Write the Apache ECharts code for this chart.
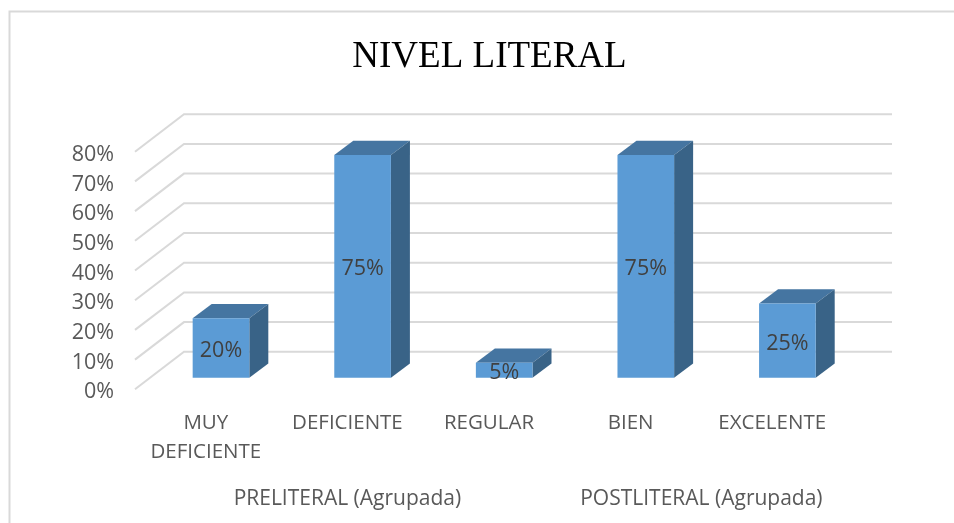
<!DOCTYPE html>
<html>
<head>
<meta charset="utf-8">
<style>
  html, body { margin: 0; padding: 0; background: #fff; }
  #chart { width: 954px; height: 523px; }
</style>
<script src="https://cdn.jsdelivr.net/npm/echarts@6/dist/echarts.min.js"></script>
</head>
<body>
<div id="chart"></div>
<script>
// datos
const categories = ['MUY\nDEFICIENTE', 'DEFICIENTE', 'REGULAR', 'BIEN', 'EXCELENTE']
const values = [20, 75, 5, 75, 25]
const yTicks = [0, 10, 20, 30, 40, 50, 60, 70, 80]
const groupNames = ['PRELITERAL (Agrupada)', 'POSTLITERAL (Agrupada)']
const groupSpans = [[0, 2], [3, 4]]

// profundidad del efecto 3D
const wallDx = 49
const wallDy = -37.5
const barShift = 0.31   // el plano de las barras, entre frente y pared
const barDx = 19
const barDy = -14.3

const font = '"Open Sans", "Noto Sans", sans-serif'
const chart = echarts.init(document.getElementById('chart'))

// rejilla: frente inclinado + linea en la pared del fondo
const renderWallLine = (params, api) => {
  const p = api.coord([0, api.value(0)])
  const x0 = params.coordSys.x
  const x1 = x0 + params.coordSys.width
  return {
    type: 'polyline',
    shape: { points: [[x0, p[1]], [x0 + wallDx, p[1] + wallDy], [x1 + wallDx, p[1] + wallDy]] },
    style: { stroke: '#d9d9d9', lineWidth: 2, fill: null }
  }
}

const renderBar = (params, api) => {
  const cat = api.value(0)
  const base = api.coord([cat, 0])
  const top = api.coord([cat, api.value(1)])
  const w = api.size([1, 0])[0] * 0.4
  const shiftX = wallDx * barShift
  const shiftY = wallDy * barShift
  const l = base[0] - w / 2 + shiftX
  const r = l + w
  const yb = base[1] + shiftY
  const yt = top[1] + shiftY
  return {
    type: 'group',
    children: [
      {
        type: 'polygon',
        shape: { points: [[l, yt], [r, yt], [r + barDx, yt + barDy], [l + barDx, yt + barDy]] },
        style: { fill: '#4575a1' }
      },
      {
        type: 'polygon',
        shape: { points: [[r, yt], [r + barDx, yt + barDy], [r + barDx, yb + barDy], [r, yb]] },
        style: { fill: '#396387' }
      },
      {
        type: 'rect',
        shape: { x: l, y: yt, width: w, height: yb - yt },
        style: { fill: '#5b9bd5' }
      },
      {
        type: 'text',
        x: l + w / 2,
        y: (yt + yb) / 2 + 3,
        style: {
          text: api.value(1) + '%',
          fill: '#404040',
          font: '21.5px ' + font,
          align: 'center',
          verticalAlign: 'middle'
        }
      }
    ]
  }
}

const renderGroupLabel = (params, api) => {
  const a = api.coord([api.value(0), 0])
  const b = api.coord([api.value(1), 0])
  return {
    type: 'text',
    x: (a[0] + b[0]) / 2,
    y: a[1] + 110,
    style: {
      text: groupNames[params.dataIndex],
      fill: '#595959',
      font: '21px ' + font,
      align: 'center',
      verticalAlign: 'middle'
    }
  }
}

chart.setOption({
  animation: false,
  backgroundColor: '#fff',
  title: {
    text: 'NIVEL LITERAL',
    left: 484.5,
    top: 34,
    textAlign: 'center',
    textStyle: { fontFamily: '"Liberation Serif"', fontSize: 37, fontWeight: 'normal', color: '#000' }
  },
  graphic: [{
    type: 'polyline',
    shape: { points: [[9.5, 523], [9.5, 11.5], [954, 11.5]] },
    style: { stroke: '#d9d9d9', lineWidth: 2, fill: null }
  }],
  grid: { left: 135, top: 151.7, width: 708, height: 237.6 },
  xAxis: {
    type: 'category',
    data: categories,
    axisLine: { show: false },
    axisTick: { show: false },
    axisLabel: { color: '#595959', fontFamily: font, fontSize: 20.5, lineHeight: 29, margin: 19, interval: 0 }
  },
  yAxis: {
    type: 'value',
    min: 0,
    max: 80,
    interval: 10,
    splitLine: { show: false },
    axisLine: { show: false },
    axisTick: { show: false },
    axisLabel: {
      margin: 21,
      formatter: '{v|{value}%}',
      rich: { v: { color: '#595959', fontFamily: font, fontSize: 21.5, padding: [6, 0, 0, 0] } }
    }
  },
  series: [
    {
      type: 'custom',
      renderItem: renderWallLine,
      data: yTicks.map(t => [t]),
      encode: { y: 0 },
      clip: false,
      silent: true,
      z: 1
    },
    {
      type: 'custom',
      renderItem: renderBar,
      data: values.map((v, i) => [i, v]),
      encode: { x: 0, y: 1 },
      clip: false,
      z: 2
    },
    {
      type: 'custom',
      renderItem: renderGroupLabel,
      data: groupSpans,
      encode: { x: [0, 1] },
      clip: false,
      silent: true,
      z: 2
    }
  ]
})
</script>
</body>
</html>
